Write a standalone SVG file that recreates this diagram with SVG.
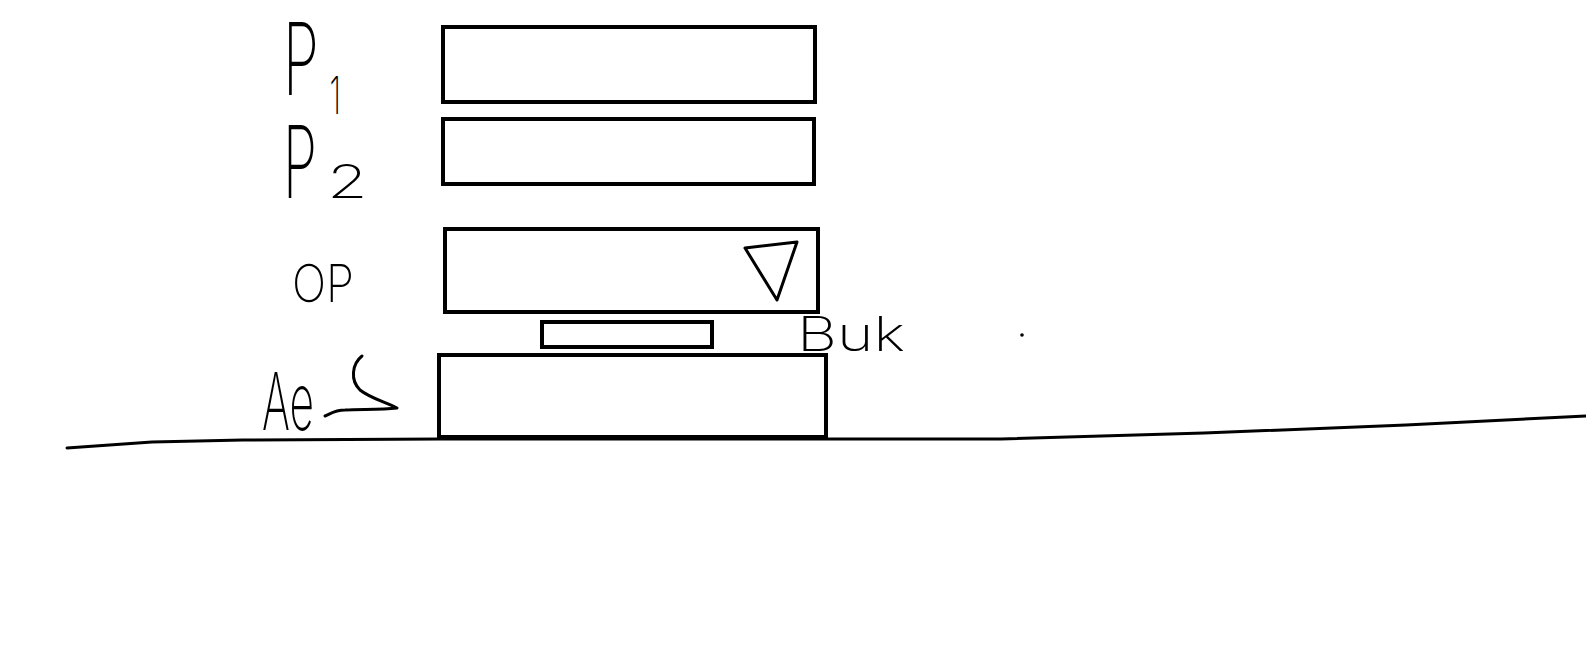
<svg xmlns="http://www.w3.org/2000/svg" width="1586" height="650" viewBox="0 0 1586 650">
<style>
.box{fill:none;stroke:#000;stroke-width:4}
.ink{fill:none;stroke:#000;stroke-width:3;stroke-linecap:round;stroke-linejoin:round}
.lbl{font-family:Inter,Roboto,"Liberation Sans",sans-serif;font-weight:200;fill:#000}
</style>
<rect width="1586" height="650" fill="#fff"/>
<g id="ground"><path class="ink" d="M67,448 L152,442 L243,440 L440,439 L1001,439 L1204,433 L1406,425 L1586,416"/></g>
<g id="p1"><rect class="box" x="443" y="27" width="372" height="75"/>
<text class="lbl" font-size="100" transform="translate(283,95) scale(0.58,1)">P<tspan x="80" y="19" font-size="52">1</tspan></text></g>
<g id="p2"><rect class="box" x="443" y="119" width="371" height="65"/>
<text class="lbl" font-size="100" transform="translate(283,198) scale(0.55,1)">P<tspan x="80" font-size="46" textLength="74" lengthAdjust="spacingAndGlyphs">2</tspan></text></g>
<g id="op"><rect class="box" x="445" y="229" width="373" height="83"/>
<path class="ink" d="M745,248 L797,242 L777,300 Z"/>
<text class="lbl" x="292" y="302" font-size="52" textLength="62" lengthAdjust="spacingAndGlyphs">OP</text></g>
<g id="spacer"><rect class="box" x="542" y="322" width="170" height="25"/></g>
<g id="base"><rect class="box" x="439" y="355" width="387" height="82"/>
<text class="lbl" x="262" y="430" font-size="80" textLength="52" lengthAdjust="spacingAndGlyphs">Ae</text>
<path class="ink" d="M362,356 C352,364 350,380 360,390 C370,398 385,402 397,408 C380,410 360,409 345,410 C335,410 330,414 325,416"/></g>
<g id="bub"><text class="lbl" x="797" y="351" font-size="48" textLength="108" lengthAdjust="spacingAndGlyphs">Buk</text></g>
<circle cx="1022" cy="335" r="1.8" fill="#000"/>
</svg>
